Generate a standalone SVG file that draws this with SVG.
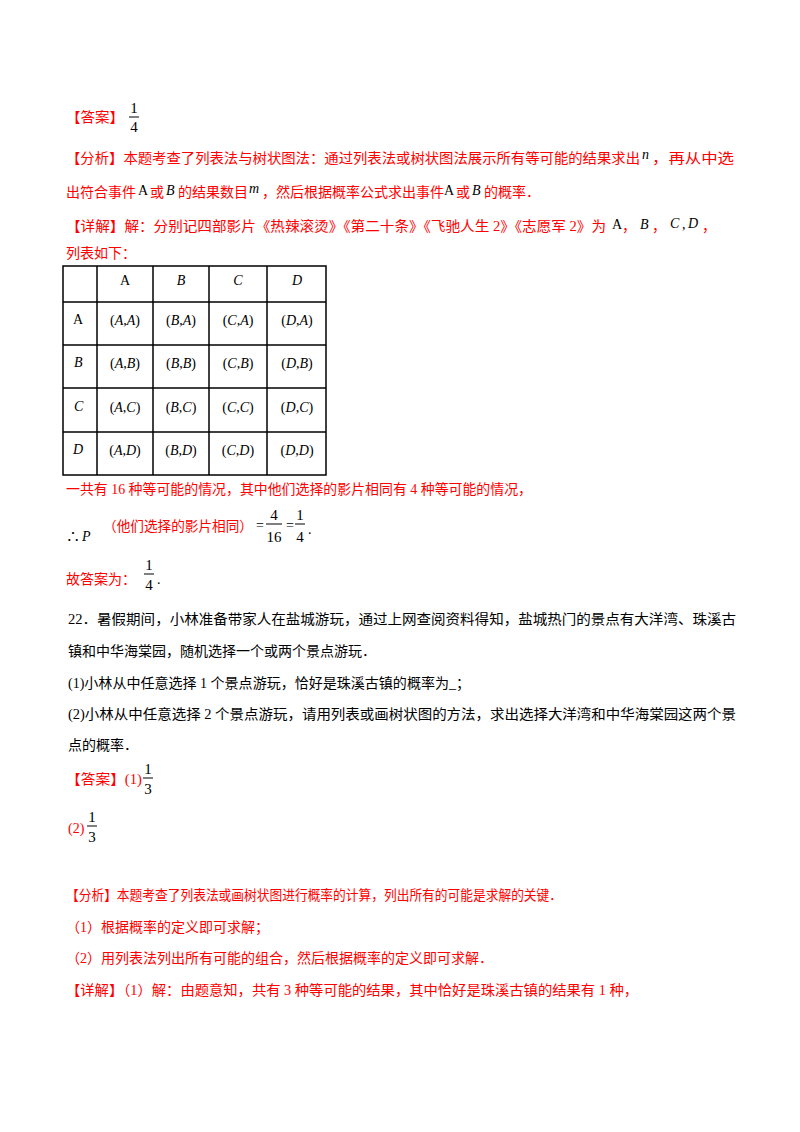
<svg xmlns="http://www.w3.org/2000/svg" width="800" height="1132" viewBox="0 0 800 1132">
<style>
text{font-family:"Liberation Serif","Noto Sans CJK SC",serif;font-size:14px;fill:#000}
.r{fill:#ff0000}
.i{font-style:italic}
.f{font-size:15px;text-anchor:middle}
.c{text-anchor:middle}
line{stroke:#000;stroke-width:1}
.t line{stroke-width:1.5}
</style>
<rect width="800" height="1132" fill="#fff"/>
<text class="r" x="66" y="122" textLength="58" lengthAdjust="spacingAndGlyphs">【答案】</text>
<text class="f" x="134" y="113">1</text><line x1="129" y1="117" x2="139" y2="117"/><text class="f" x="134" y="132">4</text>

<text class="r" x="66" y="163" textLength="574" lengthAdjust="spacingAndGlyphs">【分析】本题考查了列表法与树状图法：通过列表法或树状图法展示所有等可能的结果求出</text>
<text class="i" x="642" y="159">n</text>
<text class="r" x="652" y="163" textLength="82" lengthAdjust="spacingAndGlyphs">，再从中选</text>
<text class="r" x="66" y="197">出符合事件</text><text x="138" y="195">A</text><text class="r" x="150" y="197">或</text><text class="i" x="166" y="195">B</text><text class="r" x="178" y="197">的结果数目</text><text class="i" x="249" y="193">m</text><text class="r" x="262" y="197">，然后根据概率公式求出事件</text><text x="444" y="195">A</text><text class="r" x="456" y="197">或</text><text class="i" x="472" y="195">B</text><text class="r" x="484" y="197">的概率．</text>
<text class="r" x="66" y="231" textLength="540" lengthAdjust="spacingAndGlyphs">【详解】解：分别记四部影片《热辣滚烫》《第二十条》《飞驰人生 2》《志愿军 2》为</text>
<text x="612" y="229">A</text><text class="r" x="622" y="231">，</text><text class="i" x="640" y="229">B</text><text class="r" x="652" y="231">，</text><text class="i" x="670" y="228" font-size="16">C</text><text x="682" y="229">,</text><text class="i" x="688" y="228" font-size="16">D</text><text class="r" x="702" y="231">，</text>
<text class="r" x="66" y="258">列表如下：</text>

<g id="table" class="t">
<rect x="63" y="266" width="263" height="209" fill="none" stroke="#000" stroke-width="1.5"/>
<line x1="63" y1="302" x2="326" y2="302"/><line x1="63" y1="345" x2="326" y2="345"/><line x1="63" y1="388" x2="326" y2="388"/><line x1="63" y1="432" x2="326" y2="432"/>
<line x1="97" y1="266" x2="97" y2="475"/><line x1="153" y1="266" x2="153" y2="475"/><line x1="209" y1="266" x2="209" y2="475"/><line x1="267" y1="266" x2="267" y2="475"/>
</g>
<g>
<text class="c" x="125" y="285" font-size="12">A</text><text class="c i" x="181" y="285" font-size="12">B</text><text class="c i" x="238" y="285" font-size="13">C</text><text class="c i" x="297" y="285" font-size="13">D</text>
<text x="73" y="324" font-size="11">A</text><text class="i" x="74" y="367" font-size="12">B</text><text class="i" x="74" y="411" font-size="13">C</text><text class="i" x="73" y="454" font-size="13">D</text>
</g>
<g style="font-size:15px;text-anchor:middle">
<text x="125" y="325">(<tspan font-style="italic">A</tspan>,<tspan font-style="italic">A</tspan>)</text><text x="181" y="325">(<tspan font-style="italic">B</tspan>,<tspan font-style="italic">A</tspan>)</text><text x="238" y="325">(<tspan font-style="italic">C</tspan>,<tspan font-style="italic">A</tspan>)</text><text x="297" y="325">(<tspan font-style="italic">D</tspan>,<tspan font-style="italic">A</tspan>)</text>
<text x="125" y="368">(<tspan font-style="italic">A</tspan>,<tspan font-style="italic">B</tspan>)</text><text x="181" y="368">(<tspan font-style="italic">B</tspan>,<tspan font-style="italic">B</tspan>)</text><text x="238" y="368">(<tspan font-style="italic">C</tspan>,<tspan font-style="italic">B</tspan>)</text><text x="297" y="368">(<tspan font-style="italic">D</tspan>,<tspan font-style="italic">B</tspan>)</text>
<text x="125" y="412">(<tspan font-style="italic">A</tspan>,<tspan font-style="italic">C</tspan>)</text><text x="181" y="412">(<tspan font-style="italic">B</tspan>,<tspan font-style="italic">C</tspan>)</text><text x="238" y="412">(<tspan font-style="italic">C</tspan>,<tspan font-style="italic">C</tspan>)</text><text x="297" y="412">(<tspan font-style="italic">D</tspan>,<tspan font-style="italic">C</tspan>)</text>
<text x="125" y="455">(<tspan font-style="italic">A</tspan>,<tspan font-style="italic">D</tspan>)</text><text x="181" y="455">(<tspan font-style="italic">B</tspan>,<tspan font-style="italic">D</tspan>)</text><text x="238" y="455">(<tspan font-style="italic">C</tspan>,<tspan font-style="italic">D</tspan>)</text><text x="297" y="455">(<tspan font-style="italic">D</tspan>,<tspan font-style="italic">D</tspan>)</text>
</g>

<text class="r" x="66" y="494" textLength="466" lengthAdjust="spacingAndGlyphs">一共有 16 种等可能的情况，其中他们选择的影片相同有 4 种等可能的情况，</text>
<text x="66" y="541" font-size="13">∴</text><text class="i" x="82" y="541" font-size="15">P</text>
<text class="r" x="103" y="531" font-size="13" textLength="150" lengthAdjust="spacingAndGlyphs">（他们选择的影片相同）</text>
<text x="256" y="530">=</text>
<text class="f" x="274" y="520">4</text><line x1="266" y1="524" x2="282" y2="524"/><text class="f" x="274" y="542">16</text>
<text x="286" y="530">=</text>
<text class="f" x="300" y="520">1</text><line x1="295" y1="524" x2="305" y2="524"/><text class="f" x="300" y="542">4</text>
<text x="308" y="534">.</text>
<text class="r" x="66" y="584">故答案为：</text>
<text class="f" x="149" y="570">1</text><line x1="144" y1="574" x2="154" y2="574"/><text class="f" x="149" y="590">4</text><text x="157" y="584">.</text>

<text x="68" y="624" textLength="668" lengthAdjust="spacingAndGlyphs">22．暑假期间，小林准备带家人在盐城游玩，通过上网查阅资料得知，盐城热门的景点有大洋湾、珠溪古</text>
<text x="68" y="656">镇和中华海棠园，随机选择一个或两个景点游玩．</text>
<text x="68" y="688" textLength="402" lengthAdjust="spacingAndGlyphs">(1)小林从中任意选择 1 个景点游玩，恰好是珠溪古镇的概率为_；</text>
<text x="68" y="719" textLength="668" lengthAdjust="spacingAndGlyphs">(2)小林从中任意选择 2 个景点游玩，请用列表或画树状图的方法，求出选择大洋湾和中华海棠园这两个景</text>
<text x="68" y="750">点的概率．</text>
<text class="r" x="66" y="784" textLength="76" lengthAdjust="spacingAndGlyphs">【答案】(1)</text>
<text class="f" x="148" y="774">1</text><line x1="143" y1="778" x2="153" y2="778"/><text class="f" x="148" y="794">3</text>
<text class="r" x="68" y="833">(2)</text>
<text class="f" x="92" y="822">1</text><line x1="87" y1="826" x2="97" y2="826"/><text class="f" x="92" y="842">3</text>

<text class="r" x="66" y="900" textLength="496" lengthAdjust="spacingAndGlyphs">【分析】本题考查了列表法或画树状图进行概率的计算，列出所有的可能是求解的关键．</text>
<text class="r" x="66" y="932">（1）根据概率的定义即可求解；</text>
<text class="r" x="66" y="963">（2）用列表法列出所有可能的组合，然后根据概率的定义即可求解．</text>
<text class="r" x="66" y="995" textLength="572" lengthAdjust="spacingAndGlyphs">【详解】（1）解：由题意知，共有 3 种等可能的结果，其中恰好是珠溪古镇的结果有 1 种，</text>
</svg>
